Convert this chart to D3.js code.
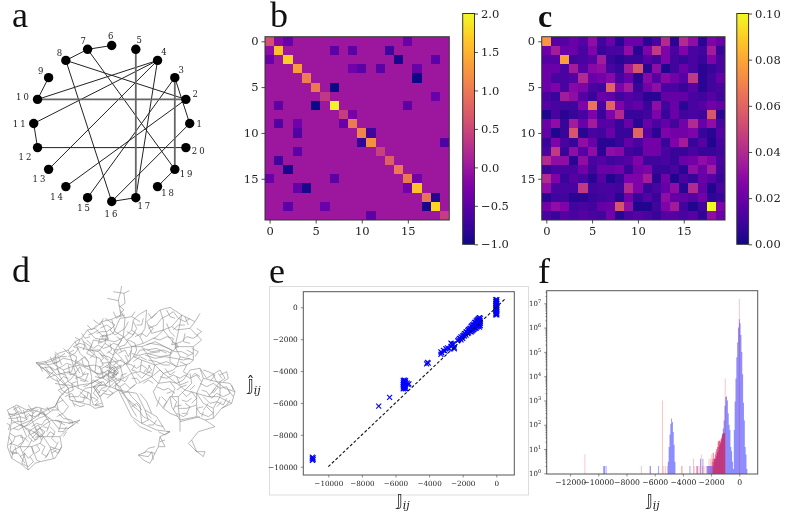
<!DOCTYPE html>
<html><head><meta charset="utf-8">
<script src="https://cdn.jsdelivr.net/npm/d3@7"></script>
<style>
html,body{margin:0;padding:0;background:#fff;overflow:hidden}
svg{display:block;will-change:opacity;opacity:0.999}
text{font-family:"DejaVu Serif",serif;fill:#222}
.letter{font-family:"Liberation Serif",serif;font-size:36px;fill:#111}
</style></head><body><svg id="fig" width="786" height="513"></svg>
<script>
// ---------- Panel a: graph ----------
const nodeNames = d3.range(1, 21).map(String);
const blackEdges = [[3,1],[1,16],[2,8],[2,14],[3,15],[4,10],[4,11],[4,13],[4,17],[6,7],[7,8],[7,19],[8,16],[9,10],[11,12],[12,20],[16,17],[18,19]];
const grayEdges = [[2,10],[3,19],[5,17]];
const nodeLabelOffsets = [[9.5,0],[9.3,-5.5],[6.5,-7.5],[6.5,-8.5],[3.3,-9.5],[-1,-9.5],[-4.5,-8.5],[-6.5,-7.8],[-7.8,-7],[-14,-2.7],[-13.5,0.5],[-11.5,9.3],[-8.7,9.7],[-8.3,10.4],[-3,10],[0.3,12.3],[9,8.7],[11,6.7],[12.3,5],[13.3,3]];

// ---------- Panel b: sparse matrix ----------
const bDiagonal = [0.6,1.6,1.7,1.3,1.05,1.0,0.35,1.95,0.4,1.0,1.1,1.2,0.45,0.75,1.0,1.0,1.6,0.95,1.75,0.4];
const bOffDiagonal = [[0,1,-0.15],[0,2,-0.4],[0,15,-0.4],[1,0,-0.1],[1,7,-0.5],[1,9,-0.5],[1,13,-0.7],[2,0,-0.4],[2,14,-0.95],[2,18,-0.5],
[3,9,-0.35],[3,10,-0.5],[3,12,-0.5],[3,16,-0.4],[4,16,-1],[5,7,-1],[6,18,-0.4],[7,1,-0.5],[7,5,-1],[7,15,-0.5],[8,9,-0.3],
[9,1,-0.6],[9,3,-0.35],[9,8,-0.4],[10,3,-0.6],[10,11,-0.7],[11,10,-0.8],[11,19,-0.6],[12,3,-0.5],[13,1,-0.7],[14,2,-0.95],
[15,0,-0.4],[15,7,-0.5],[15,16,-0.35],[16,3,-0.45],[16,4,-0.95],[16,15,-0.35],[17,18,-0.9],[18,2,-0.5],[18,6,-0.4],[18,17,-0.95],[19,11,-0.5]];
const heatTicks = [0,5,10,15];
const bBarTicks = [-1,-0.5,0,0.5,1,1.5,2];
const cBarTicks = [0,0.02,0.04,0.06,0.08,0.1];

// ---------- Panel c: dense matrix ----------
const cRows = [
[.075,.015,.015,.02,.015,.03,.01,.02,.005,.02,.02,.005,.012,.04,.005,.04,.03,.005,.025,.02],
[.02,.035,.02,.02,.012,.025,.008,.012,.012,.03,.005,.025,.045,.025,.012,.025,.012,.01,.035,.008],
[.015,.015,.078,.01,.012,.015,.035,.008,.005,.008,.008,.015,.01,.025,.01,.008,.012,.008,.025,.012],
[.02,.02,.012,.035,.015,.028,.03,.012,.008,.035,.055,.005,.03,.003,.01,.02,.012,.005,.008,.012],
[.02,.012,.012,.015,.04,.02,.022,.028,.012,.02,.005,.028,.015,.028,.022,.015,.045,.005,.01,.018],
[.02,.025,.012,.028,.025,.012,.01,.06,.025,.035,.008,.022,.03,.012,.012,.008,.015,.005,.01,.012],
[.012,.008,.035,.03,.015,.008,.02,.018,.01,.015,.012,.005,.005,.018,.018,.018,.012,.01,.015,.01],
[.015,.012,.01,.01,.025,.065,.012,.06,.025,.015,.018,.008,.03,.01,.02,.005,.012,.015,.022,.018],
[.003,.012,.005,.008,.012,.025,.008,.025,.04,.008,.008,.01,.025,.008,.02,.01,.012,.01,.055,.005],
[.02,.03,.008,.035,.02,.035,.015,.015,.008,.02,.005,.02,.012,.018,.01,.022,.04,.02,.03,.012],
[.018,.003,.008,.055,.005,.012,.01,.02,.008,.008,.06,.015,.005,.025,.022,.022,.025,.008,.005,.015],
[.008,.025,.012,.008,.03,.02,.005,.005,.008,.018,.012,.022,.022,.008,.025,.035,.008,.015,.003,.012],
[.012,.045,.008,.03,.015,.03,.005,.03,.028,.01,.008,.022,.022,.012,.008,.008,.012,.008,.008,.01],
[.04,.03,.03,.005,.03,.012,.015,.01,.012,.015,.025,.01,.01,.012,.008,.02,.022,.03,.025,.012],
[.008,.012,.012,.012,.022,.01,.02,.02,.022,.008,.022,.025,.008,.008,.012,.005,.03,.02,.035,.01],
[.04,.025,.008,.015,.012,.005,.015,.003,.008,.025,.025,.035,.005,.022,.003,.012,.008,.02,.015,.008],
[.03,.012,.012,.012,.045,.01,.012,.012,.01,.04,.025,.008,.012,.018,.03,.005,.04,.018,.003,.012],
[.005,.01,.01,.005,.005,.008,.01,.012,.005,.022,.008,.015,.008,.03,.018,.018,.015,.022,.006,.008],
[.022,.03,.025,.01,.012,.01,.018,.02,.055,.03,.003,.003,.01,.025,.035,.01,.003,.01,.1,.025],
[.012,.008,.015,.012,.015,.012,.01,.022,.005,.012,.015,.012,.008,.015,.015,.012,.015,.006,.03,.02]];

// ---------- Panel d: power grid traced as polylines (flat x,y lists) ----------
const gridSpur = [[365,108,362,125,355,150,360,180,362,195],[322,145,355,152],[340,125,372,130,388,122],[372,130,375,160,360,170],[355,165,372,180,360,190],[358,200,375,195]];
const gridIberia = [
[22,480,50,465,80,480,115,472,135,478,165,470],
[22,480,35,510,30,545,22,590,35,625,60,640,85,660,105,640,120,635,165,625,185,590,180,560,205,535,240,510],
[30,540,60,525,95,510,130,485,165,470,180,440],[30,500,65,490,100,480,130,490,155,510,210,520,240,510],
[45,470,60,500,65,525,80,560,60,590,75,625,85,660],[95,510,110,540,130,560,150,590,160,625],
[60,525,100,545,120,560,150,560,180,560],[30,580,60,590,95,590,120,580,130,560],
[110,540,140,520,155,510,175,535,205,535],[130,485,150,520,140,545],[95,590,110,630,120,635],[35,625,40,600,60,590],
[165,470,185,490,215,520],[100,480,95,510,75,530,50,520,35,510],[85,545,115,525,130,550,105,570,85,545],
[105,535,125,570],[115,545,95,565],[170,500,190,490,205,470,180,440],[150,590,180,600],[25,495,50,490,40,470],
[70,480,80,510],[120,475,140,505],[30,605,55,610,75,640],[205,520,225,515,235,520],
[25,490,40,495,55,485,70,490,85,478,100,490,115,478],[25,505,45,505,60,500,75,505,90,495,105,500,120,490,135,495],
[35,520,50,515,70,515,85,505],[40,535,55,540,70,530,85,525,100,515,115,505,130,500,145,490,160,478],
[30,550,45,560,40,575,25,585],[45,560,65,555,70,575,55,585],[75,535,90,545,85,560,100,575,115,565],
[95,530,110,520,125,525,135,510,150,505],[100,550,120,535,135,545,125,560,110,560],[90,555,105,545,115,555,105,565],
[95,570,85,590,70,605,85,625,100,610,95,590],[120,580,135,590,125,610,140,620,150,600,165,595,175,575],
[165,510,185,515,175,545,190,545,200,530],[150,530,165,545,155,565,170,580],[140,560,150,545,165,555],[185,590,175,610,160,600],
[60,620,75,610,65,640,85,650,100,635,90,620],[25,560,35,575,30,600,40,615],[205,535,220,525,215,510,190,505,175,490],
[155,480,175,480,170,460,190,450],[115,500,125,475],
[40,480,55,470,65,485],[85,465,95,480,110,470],[140,470,150,485],[20,520,30,525,25,540],[45,590,50,610,35,610],[105,610,120,600,110,585],[145,610,135,625],[170,600,155,610],[190,560,200,545],[175,515,195,525],[60,560,75,565,85,575],[130,530,145,535],[75,500,85,490,100,505],[50,500,55,515]];
const gridFrance = [
[108,338,140,345,165,340,190,325,215,330,240,345],[108,338,125,355,150,350,170,375,205,365,230,380,265,395],
[165,310,170,345,180,380,205,415,210,450,270,465],[205,300,215,330,230,380,235,415,270,430,280,465,310,470],
[225,275,240,310,265,335,275,380,275,420,270,465],[135,335,160,365,140,385,165,375],
[180,440,205,415,240,405,275,400,300,385,325,370],[165,400,190,405,215,385,240,350],[190,360,205,395,235,415],
[245,265,260,295,290,320,285,365,300,385],[235,290,265,300,300,300,325,330],[225,330,255,350,280,345,300,350],
[205,440,235,440,255,415,285,410,300,430],[160,325,175,320,185,345],[210,310,230,320,225,345,240,370],
[270,465,285,475,310,470,300,440,280,410],
[362,195,335,208,305,215,285,235,262,240,245,265,225,275,205,300,175,310,160,325,135,335,108,338],
[108,338,135,360,165,375,190,400,205,415],[160,325,165,345,190,360,215,350,240,345,270,360,300,375,325,360],
[205,415,180,440,165,470],
[125,350,140,365,155,385,175,395,190,380,205,385],[115,345,130,340,150,335,170,325,185,320,200,320],[150,350,165,360,185,350,200,340,215,345],
[170,385,185,420,200,430,220,420,215,400,230,395],[195,440,215,430,230,455,250,455,255,435],[240,350,250,375,265,370,255,395,240,390],
[200,370,215,365,220,345,235,335,255,320,265,335],[205,320,225,310,235,295,220,290,240,280,255,285,250,300],
[260,270,275,285,260,310,280,320,300,325,310,345,295,355],[265,345,275,360,290,370,305,370,300,350],
[250,410,265,405,280,390,295,400,310,395,320,410,305,415,295,430],[270,440,285,445,295,455,285,465,305,460],[240,425,255,440,270,450],[220,460,240,470,255,465],
[118,345,128,365],[135,350,150,372],[150,320,160,340,178,335],[165,305,180,320,195,310],[190,295,205,310,222,300],[225,262,240,270,232,285],[245,250,255,265,270,260],[262,225,275,240,290,225],[280,210,300,225,310,205],
[170,355,180,370,195,375],[205,345,210,375,225,370],[245,325,250,345,265,350],[275,300,285,310,270,325],[300,310,310,325,300,335],[225,385,245,380,255,365],[185,405,205,405,220,410],[240,440,260,445,265,425],[215,450,225,470],[195,410,175,420,190,435]];
const gridCentral = [
[285,235,310,260,340,250,360,205,395,200,420,215],[305,215,320,250,315,280,295,305,320,330,340,350],
[262,240,285,265,315,270,345,275,375,260,395,240],[335,208,345,245,370,260,395,290,390,330,365,350,340,365],
[360,180,375,205,370,260,345,300,330,345],[310,255,305,265,325,268,320,250],[315,280,345,300,370,295,395,290,425,290],
[295,305,270,300,280,270,305,275],[330,345,325,375,345,395,370,385,360,345,335,360,325,375],[320,360,350,375,345,360,335,385],
[300,385,325,375,330,410,300,440,280,410,305,395],[345,395,330,410,355,420,380,425,410,400,395,370,420,365],
[370,385,395,370,380,345,400,320,425,330,420,365],[340,300,360,320,380,345],[395,240,420,260,435,235,440,180,415,195,400,210,395,240],
[395,200,405,185],[285,380,310,385,305,355,325,345,335,325],[280,410,310,405,330,410],[300,440,310,430,330,435,355,420],
[355,310,375,300,385,320,395,300],[305,340,345,335,365,330],[320,345,345,365,340,385,320,400],[335,350,355,370,330,380],
[315,350,330,355,345,350,355,365,345,380,330,385,320,375,330,365,345,370],[325,340,335,355,325,365,340,375,350,390],[320,385,335,395,350,385,360,395],
[305,365,320,370,310,385,325,395,315,405,295,405],[275,400,290,390,305,400,290,415,280,430,295,445,285,455],[340,320,355,335,340,345,350,355,365,345],
[300,260,315,255,325,265,310,275,295,280,300,265],[330,215,345,225,330,240,345,255,360,245,375,235,385,215],[300,235,320,225,335,235,320,245,305,245,290,250],
[265,255,280,250,295,240],[250,275,265,285,280,295,295,285,310,295,325,290,340,280,355,285,365,305],[325,305,340,315,355,300],[305,315,325,320,340,330,355,345],
[360,290,375,285,385,270,405,280,410,300,400,320],[400,215,410,235,400,255,380,245],[405,260,425,250,440,260,460,235,445,225],
[345,400,360,410,375,400,390,415,405,405],[395,345,410,355,425,345,440,355,430,370],[360,330,375,340,395,345],[380,370,365,375,360,395,340,410],[410,370,425,385,440,370,455,360,445,345],
[315,205,330,215],[340,185,350,205,370,190],[330,280,335,300,320,310],[350,260,365,270,355,285],[380,270,395,260,405,245],[410,225,425,225,430,205],[445,190,455,205,470,190],[395,310,410,315,420,300,435,300],[375,315,385,335,370,345],[405,345,395,360,410,365],[350,400,345,415,365,425],[325,420,340,430,320,445],[305,420,320,425],[355,385,375,395,385,380],[395,385,410,385,420,395],[430,400,445,390,460,400]];
const gridPoland = [
[440,215,480,180,510,172,545,195,585,215,600,190],[585,215,570,235,605,270,580,290,580,330,570,340],
[440,215,455,250,490,240,515,230,545,195],[480,180,490,210,490,240,510,265,530,290,580,290],[515,230,530,240,570,235],
[545,195,535,245,525,290,540,320,580,330],[420,260,430,280,470,260,490,240],[425,290,440,310,480,320,510,315,530,290],
[425,290,450,280,480,285,515,300,510,315],[440,300,470,295,500,310],[445,310,480,305],[395,290,430,280],
[400,320,440,310,465,345,500,335,530,350,555,345,570,340],[510,315,510,335,530,350,540,320],[425,330,465,345,455,380,415,400],
[465,345,490,370,520,360,530,350],
[445,235,470,225,485,205,505,195,520,185,535,205,555,215,570,205],[460,265,480,270,500,260,520,265,515,285,545,275,560,260,580,265,595,255],
[555,250,550,275,570,280],[520,240,535,225,555,225],[500,220,510,245,525,260],[440,285,465,275,495,290,525,305,545,305,565,315],
[430,295,455,305,490,300,515,310],[435,315,465,325,495,320,525,325,550,330,570,325],[445,330,470,335,490,345,510,345],
[520,275,530,285,525,295,535,290,528,278],[400,335,420,320,440,330],[560,300,580,310,560,320],
[500,180,510,200,525,205],[555,200,565,225],[590,235,605,245,590,255],[575,295,595,305,585,320],[450,345,440,365,455,370],[495,355,510,375,525,365],[540,335,560,345,550,365,565,375]];
const gridBalkans = [
[420,365,455,380,480,360,490,370,530,400,550,390,570,360,600,355,620,385,660,360,675,385,660,395],
[640,375,650,395,690,400,705,425,695,460,665,475,640,505,615,510,590,500],
[570,370,575,400,555,420,535,440,535,475,540,510,590,500],[490,370,475,400,460,425,470,450,490,475,510,440,535,440],
[455,380,475,400,510,395,530,400,555,420,590,430,625,440,660,395],[590,430,610,460,640,475,640,505],[625,440,655,440,695,460],
[600,355,610,385,590,430,590,465,590,500],[510,440,515,470,540,510,540,545],[490,475,510,490,535,500],[590,465,560,475,535,475],
[660,395,660,440,640,475],[610,385,650,395,675,415,705,425],[615,510,645,530,595,545,575,570,565,580,590,605,615,605,610,620,585,600],
[540,515,600,500],[575,570,590,605],
[480,380,500,385,520,375,540,385,555,375,570,385,590,375,605,395],[510,395,525,415,515,440,530,455,520,480],[545,425,560,440,575,425,590,445,575,460],
[470,410,490,420,505,415,525,430],[485,440,500,455,490,470],[600,400,620,410,640,400,660,415,680,410,690,430,670,440,650,430,635,445,620,425,605,420],
[610,440,630,460,650,455,670,465,680,445],[620,470,640,490,625,500,600,490,590,475,610,470],[665,475,680,465,690,450],[660,375,680,365,685,385,670,395],
[630,395,645,375,625,365,610,360],[555,460,570,470,560,490,545,490],[600,380,585,370,575,380],[640,430,655,410],[530,380,540,405,565,395],
[530,420,545,410,560,405],[500,430,515,425],[480,440,470,470],[585,405,570,420],[610,480,625,460],[650,470,665,455],[685,420,700,440],[645,415,635,430],[655,370,665,385],[695,405,700,420],[545,450,560,455,575,445],[525,470,545,465],[530,490,550,500,565,490],[605,500,610,485]];
const gridItaly = [
[355,420,375,460,395,500,425,520,470,540,510,545,480,560,475,590,465,610,440,605,415,615,430,630,450,640,465,610],
[380,425,410,430,435,480,470,500,495,540],[395,440,420,465,425,520],[345,395,375,440,410,470],[435,480,445,510,425,520],
[475,590,495,590,480,560],[400,510,420,530,455,545],
[385,450,400,470,415,480,430,500,450,510,470,525,490,530],[360,410,380,445,395,475,410,500],[420,430,440,455,455,490],[500,545,510,545,495,555,475,545],[415,615,445,620,455,605,460,630],
[395,470,410,460,425,480],[440,490,455,505],[445,525,460,525,470,510],[480,575,495,570],[430,610,445,595,465,590],[365,430,385,425,395,440]];

// ---------- Panel e: scatter ----------
const scatterZero = [[-30,-480],[30,-480],[0,-420],[-30,-360],[30,-360],[0,-300],[-30,-240],[30,-240],[0,-180],[-30,-120],[30,-120],[0,-60],[-30,0],[30,0],[0,60],[-30,120],[30,120],[0,180],[-30,240],[30,240],[0,300],[-30,360],[30,360],[0,420],[-30,480],[30,480]];
const scatterBand = [[-1000,-650],[-1000,-800],[-1000,-950],[-1000,-1100],[-1000,-1250],[-950,-700],[-950,-850],[-950,-1000],[-950,-1150],[-1050,-700],[-1050,-850],[-1050,-1000],[-1050,-1150],[-1100,-750],[-1100,-900],[-1100,-1050],[-1100,-1200],[-1150,-800],[-1150,-950],[-1150,-1100],[-1150,-1250],[-1200,-850],[-1200,-1000],[-1200,-1150],[-1200,-1300],[-1250,-950],[-1250,-1100],[-1250,-1300],[-1300,-950],[-1300,-1150],[-1300,-1350],[-1350,-1050],[-1350,-1250],[-1350,-1400],[-1400,-1100],[-1400,-1300],[-1400,-1450],[-1450,-1150],[-1450,-1350],[-1450,-1500],[-1500,-1200],[-1500,-1400],[-1500,-1550],[-1550,-1300],[-1550,-1500],[-1600,-1350],[-1600,-1500],[-1650,-1400],[-1650,-1600],[-1700,-1450],[-1700,-1650],[-1750,-1550],[-1800,-1550],[-1800,-1750],[-1850,-1650],[-1900,-1650],[-1900,-1800],[-1950,-1750],[-2000,-1800],[-2000,-1950],[-2050,-1900],[-2100,-1850],[-2100,-2050],[-2150,-1950],[-2200,-1950],[-2250,-2050],[-2300,-2100]];
const scatterLoose = [[-2500,-2500],[-2550,-2300],[-2650,-2300],[-2700,-2250],[-2700,-2450],[-2800,-2600],[-2900,-2550],[-3000,-2600],[-3050,-2750],[-3150,-2700],[-3300,-2800],[-3300,-2950],[-3250,-2850],[-2600,-2350],[-2500,-2600],[-4150,-3550],[-4050,-3500],[-4100,-3450],[-5200,-4800],[-5300,-4750],[-5250,-4850],[-6350,-5650],[-7000,-6200],[-10950,-9600],[-10950,-9500],[-10950,-9400],[-10900,-9450],[-10900,-9550]];
const scatterBlock = [[-5540,-4580],[-5470,-4570],[-5400,-4600],[-5510,-4650],[-5440,-4660],[-5540,-4720],[-5470,-4730],[-5400,-4710],[-5510,-4790],[-5440,-4800],[-5540,-4860],[-5470,-4870],[-5400,-4850],[-5510,-4930],[-5440,-4940],[-5540,-5000],[-5470,-5010],[-5400,-4990],[-5510,-5070],[-5440,-5080],[-5540,-5120],[-5400,-5110]];
const diagonalLine = [[-10000,-10000],[500,500]];
const eTicksX = [-10000,-8000,-6000,-4000,-2000,0];
const eTicksY = [-10000,-8000,-6000,-4000,-2000,0];

// ---------- Panel f: histograms ([bin centre, count]) ----------
const blueBins = [[-9620,2],[-9560,2],[-9450,2],[-6300,2],[-5720,2],[-3500,2],[-3000,2],[-2760,4],[-2580,4],
[-5040,3],[-4980,12],[-4920,40],[-4860,110],[-4800,180],[-4740,130],[-4680,50],[-4620,15],[-4560,3],
[-2280,2],[-2220,2],[-2160,2],[-2100,2],[-2040,2],[-1980,2],[-1920,3],[-1860,2],[-1800,3],[-1740,4],[-1680,4],[-1620,5],[-1560,7],[-1500,8],[-1440,12],[-1380,15],[-1320,18],[-1260,25],[-1200,40],[-1140,70],[-1080,150],[-1020,600],[-960,1400],[-900,1500],[-840,1000],[-780,300],[-720,100],[-660,60],[-600,12],[-540,8],[-480,3],
[-420,1.5],[-360,60],[-300,900],[-240,8000],[-180,60000],[-120,250000],[-60,1000000],[0,2200000],[60,1500000],[120,500000],[180,100000],[240,12000],[300,800],[360,150],[420,12],[480,6],[540,1.5]].sort((a,b)=>a[0]-b[0]);
const redBinsSparse = [[-10950,6],[-6950,2],[-6350,2],[-5450,1000],[-5400,2],[-5250,2],[-5100,2],[-4100,2],[-4050,2],[-3250,4],[-3200,2],[-3000,2],[-2950,2],[-2850,2],[-2700,6],[-2600,2],[-2500,2],[-2350,2],[-2150,4],[-2050,4],[-1950,6],[-1900,4],[-1000,8000],[0,15000000]];
const redBinsDense = [[-1850,7],[-1800,4],[-1750,4],[-1700,6],[-1650,8],[-1600,10],[-1550,12],[-1500,20],[-1450,22],[-1400,22],[-1350,20],[-1300,25],[-1250,30],[-1200,40],[-1150,45],[-1100,45],[-1050,45]];
const fTicksX = [-12000,-10000,-8000,-6000,-4000,-2000,0];
const fDecades = [0,1,2,3,4,5,6,7];

// ---------- Drawing ----------
const svg = d3.select("#fig");
const spine = "#555";

function letter(ch, x, y, size, bold){
  svg.append("text").attr("class","letter").attr("x",x).attr("y",y).style("font-size",size+"px").attr("font-weight",bold?"bold":null).text(ch);
}
letter("a",12,26.5,36); letter("b",270,26.5,36); letter("c",538,26.5,32,true);
letter("d",12,281.5,36); letter("e",269,283,36); letter("f",538,283,36);

// a
(function(){
  const angle = d3.scaleLinear().domain([1,21]).range([0,2*Math.PI]);
  const px = i => 111.7 + 78*Math.cos(angle(i));
  const py = i => 123.5 - 78*Math.sin(angle(i));
  const g = svg.append("g");
  g.selectAll("line.k").data(blackEdges).join("line").attr("class","k")
    .attr("x1",d=>px(d[0])).attr("y1",d=>py(d[0])).attr("x2",d=>px(d[1])).attr("y2",d=>py(d[1]))
    .attr("stroke","#222").attr("stroke-width",1);
  g.selectAll("line.g").data(grayEdges).join("line").attr("class","g")
    .attr("x1",d=>px(d[0])).attr("y1",d=>py(d[0])).attr("x2",d=>px(d[1])).attr("y2",d=>py(d[1]))
    .attr("stroke","#666").attr("stroke-width",1.8);
  g.selectAll("circle").data(nodeNames).join("circle")
    .attr("cx",(d,i)=>px(i+1)).attr("cy",(d,i)=>py(i+1)).attr("r",4.7).attr("fill","#000");
  g.selectAll("text").data(nodeNames).join("text")
    .attr("x",(d,i)=>px(i+1)+nodeLabelOffsets[i][0]).attr("y",(d,i)=>py(i+1)+nodeLabelOffsets[i][1]+3)
    .attr("text-anchor","middle").attr("font-size",8.5).attr("letter-spacing",d=>d.length>1?"2px":null).attr("fill","#333").text(d=>d);
})();

// heatmaps
function heatmap(x0, y0, w, h, cells, color, barX, barTicks, barFmt){
  const idx = d3.range(20);
  const bx = d3.scaleBand().domain(idx).range([x0,x0+w]);
  const by = d3.scaleBand().domain(idx).range([y0,y0+h]);
  const g = svg.append("g").attr("shape-rendering","crispEdges");
  g.selectAll("rect").data(cells).join("rect")
    .attr("x",d=>bx(d.c)).attr("y",d=>by(d.r)).attr("width",bx.bandwidth()).attr("height",by.bandwidth())
    .attr("fill",d=>color(d.v));
  const ax = d3.axisBottom(d3.scaleLinear().domain([-0.5,19.5]).range([x0,x0+w])).tickValues(heatTicks).tickSize(3.5).tickFormat(d3.format("d"));
  const ay = d3.axisLeft(d3.scaleLinear().domain([19.5,-0.5]).range([y0+h,y0])).tickValues(heatTicks).tickSize(3.5).tickFormat(d3.format("d"));
  [svg.append("g").attr("transform",`translate(0,${y0+h})`).call(ax),
   svg.append("g").attr("transform",`translate(${x0},0)`).call(ay)].forEach(a=>{
    a.select(".domain").remove();
    a.selectAll("text").attr("font-size",11.5).attr("font-family","DejaVu Serif");
    a.selectAll("line").attr("stroke","#222").attr("stroke-width",0.8);
  });
  svg.append("rect").attr("x",x0).attr("y",y0).attr("width",w).attr("height",h).attr("fill","none").attr("stroke","#333").attr("stroke-width",1);
  // colorbar
  const bTop = 13.5, bBot = 244.3, bW = 11.8;
  const scale = d3.scaleLinear().domain(color.domain()).range([bBot,bTop]);
  const id = "grad"+Math.round(x0);
  const grad = svg.append("defs").append("linearGradient").attr("id",id).attr("x1",0).attr("y1",1).attr("x2",0).attr("y2",0);
  grad.selectAll("stop").data(d3.range(0,1.001,0.02)).join("stop").attr("offset",d=>d).attr("stop-color",d=>d3.interpolatePlasma(d));
  svg.append("rect").attr("x",barX).attr("y",bTop).attr("width",bW).attr("height",bBot-bTop).attr("fill",`url(#${id})`).attr("stroke","#333").attr("stroke-width",1);
  const cb = svg.append("g").attr("transform",`translate(${barX+bW},0)`).call(d3.axisRight(scale).tickValues(barTicks).tickSize(3.5).tickFormat(barFmt));
  cb.select(".domain").remove();
  cb.selectAll("text").attr("font-size",11.5).attr("font-family","DejaVu Serif");
  cb.selectAll("line").attr("stroke","#222").attr("stroke-width",0.8);
}
const bColor = d3.scaleSequential(d3.interpolatePlasma).domain([-1,2]);
const bCells = [];
d3.range(20).forEach(r=>d3.range(20).forEach(c=>bCells.push({r,c,v:r===c?bDiagonal[r]:0})));
bOffDiagonal.forEach(([r,c,v])=>{bCells[r*20+c].v=v;});
heatmap(265,36.7,184.3,183.3,bCells,bColor,462.7,bBarTicks,d3.format(".1f"));

const cColor = d3.scaleSequential(d3.interpolatePlasma).domain([0,0.1]);
const cCells = cRows.flatMap((row,r)=>row.map((v,c)=>({r,c,v})));
heatmap(541.7,36.7,183.3,183.3,cCells,cColor,736.8,cBarTicks,d3.format(".2f"));

// d
(function(){
  const sx = d3.scaleLinear().domain([0,780]).range([0,260]);
  const sy = d3.scaleLinear().domain([0,750]).range([250,500]);
  const line = d3.line().x(d=>sx(d[0])).y(d=>sy(d[1]));
  const all = [].concat(gridSpur,gridIberia,gridFrance,gridCentral,gridPoland,gridBalkans,gridItaly);
  const toPairs = f => d3.range(0,f.length,2).map(i=>[f[i],f[i+1]]);
  svg.append("g").selectAll("path").data(all).join("path")
    .attr("d",d=>line(toPairs(d))).attr("fill","none").attr("stroke","#8a8a8a").attr("stroke-width",0.6);
})();

// e
(function(){
  svg.append("rect").attr("x",269.5).attr("y",286.5).attr("width",259).attr("height",208.5).attr("fill","#fff").attr("stroke","#ddd").attr("stroke-width",1);
  const L=303.3,R=514.3,T=291.7,B=475;
  const x = d3.scaleLinear().domain([-11488,1071]).range([L,R]);
  const y = d3.scaleLinear().domain([-10520,979]).range([B,T]);
  const g = svg.append("g");
  const pts = [].concat(scatterZero,scatterBand,scatterLoose,scatterBlock);
  const r = 2.5;
  g.selectAll("path.m").data(pts).join("path").attr("class","m")
    .attr("d",d=>{const X=x(d[0]),Y=y(d[1]);return `M${X-r},${Y-r}L${X+r},${Y+r}M${X-r},${Y+r}L${X+r},${Y-r}`;})
    .attr("stroke","#0000ff").attr("stroke-width",1.1).attr("fill","none");
  g.append("path").datum(diagonalLine).attr("d",d3.line().x(d=>x(d[0])).y(d=>y(d[1])))
    .attr("stroke","#111").attr("stroke-width",1.1).attr("stroke-dasharray","3,2").attr("fill","none");
  frame(L,R,T,B);
  axisStyle(svg.append("g").attr("transform",`translate(0,${B})`).call(d3.axisBottom(x).tickValues(eTicksX).tickSize(2.5).tickFormat(d3.format("d"))),7.2);
  axisStyle(svg.append("g").attr("transform",`translate(${L},0)`).call(d3.axisLeft(y).tickValues(eTicksY).tickSize(2.5).tickFormat(d3.format("d"))),7.4);
  mathLabel(403,506,false);
  mathLabel(254,391,true);
})();

// f
(function(){
  const L=546.7,R=757.7,T=290.7,B=474;
  const x = d3.scaleLinear().domain([-13660,1305]).range([L,R]);
  const y = d3.scaleLog().domain([Math.pow(10,-0.03),Math.pow(10,7.52)]).range([B,T]);
  const w = 60;
  // contiguous blue bins form one stepped outline
  const groups = [];
  blueBins.forEach(b=>{
    const last = groups[groups.length-1];
    if(last && b[0]-last[last.length-1][0] <= w) last.push(b); else groups.push([b]);
  });
  const blueArea = g=>{
    const p = g.flatMap(b=>[[b[0]-w/2,b[1]],[b[0]+w/2,b[1]]]);
    return d3.area().x(d=>x(d[0])).y0(B).y1(d=>y(d[1]))(p);
  };
  svg.append("g").selectAll("path").data(groups).join("path").attr("d",blueArea).attr("fill","#0000ff").attr("fill-opacity",0.45);
  const bars = (data,color,op)=>svg.append("g").selectAll("rect").data(data).join("rect")
    .attr("x",d=>x(d[0]-w/2)).attr("width",x(w)-x(0)).attr("y",d=>y(d[1])).attr("height",d=>B-y(d[1]))
    .attr("fill",color).attr("fill-opacity",op);
  bars(redBinsSparse,"#ff0000",0.28);
  bars(redBinsDense,"#e00030",0.62);
  frame(L,R,T,B);
  axisStyle(svg.append("g").attr("transform",`translate(0,${B})`).call(d3.axisBottom(x).tickValues(fTicksX).tickSize(2.5).tickFormat(d3.format("d"))),7.7);
  const minor = fDecades.flatMap(e=>[2,3,4,5,6,7,8,9].map(m=>m*Math.pow(10,e))).filter(v=>y(v)>T);
  axisStyle(svg.append("g").attr("transform",`translate(${L},0)`).call(d3.axisLeft(y).tickValues(minor).tickSize(1.3).tickFormat("")),7);
  const major = svg.append("g").attr("transform",`translate(${L},0)`).call(d3.axisLeft(y).tickValues(fDecades.map(e=>Math.pow(10,e))).tickSize(2.5).tickFormat(""));
  axisStyle(major,7);
  major.selectAll(".tick text").each(function(d){
    const t=d3.select(this).attr("font-size",7);
    t.append("tspan").text("10");
    t.append("tspan").attr("dy",-3).attr("font-size",5).text(Math.round(Math.log10(d)));
  });
  mathLabel(653,506,false);
})();

function frame(L,R,T,B){
  svg.append("rect").attr("x",L).attr("y",T).attr("width",R-L).attr("height",B-T).attr("fill","none").attr("stroke",spine).attr("stroke-width",1);
}
function axisStyle(a,fs){
  a.select(".domain").remove();
  a.selectAll("text").attr("font-size",fs).attr("font-family","DejaVu Serif").attr("fill","#333");
  a.selectAll("line").attr("stroke","#444").attr("stroke-width",0.6);
}
function mathLabel(x,y,hat){
  const t = svg.append("text").attr("x",x).attr("y",y).attr("text-anchor","middle").style("font-family","DejaVu Sans").attr("font-size",16).attr("fill","#333");
  t.append("tspan").text(hat ? "\u{1D541}\u0302" : "\u{1D541}");
  t.append("tspan").attr("dy",2.5).attr("font-size",11).attr("font-style","italic").style("font-family","DejaVu Serif").text("ij");
}
</script></body></html>
